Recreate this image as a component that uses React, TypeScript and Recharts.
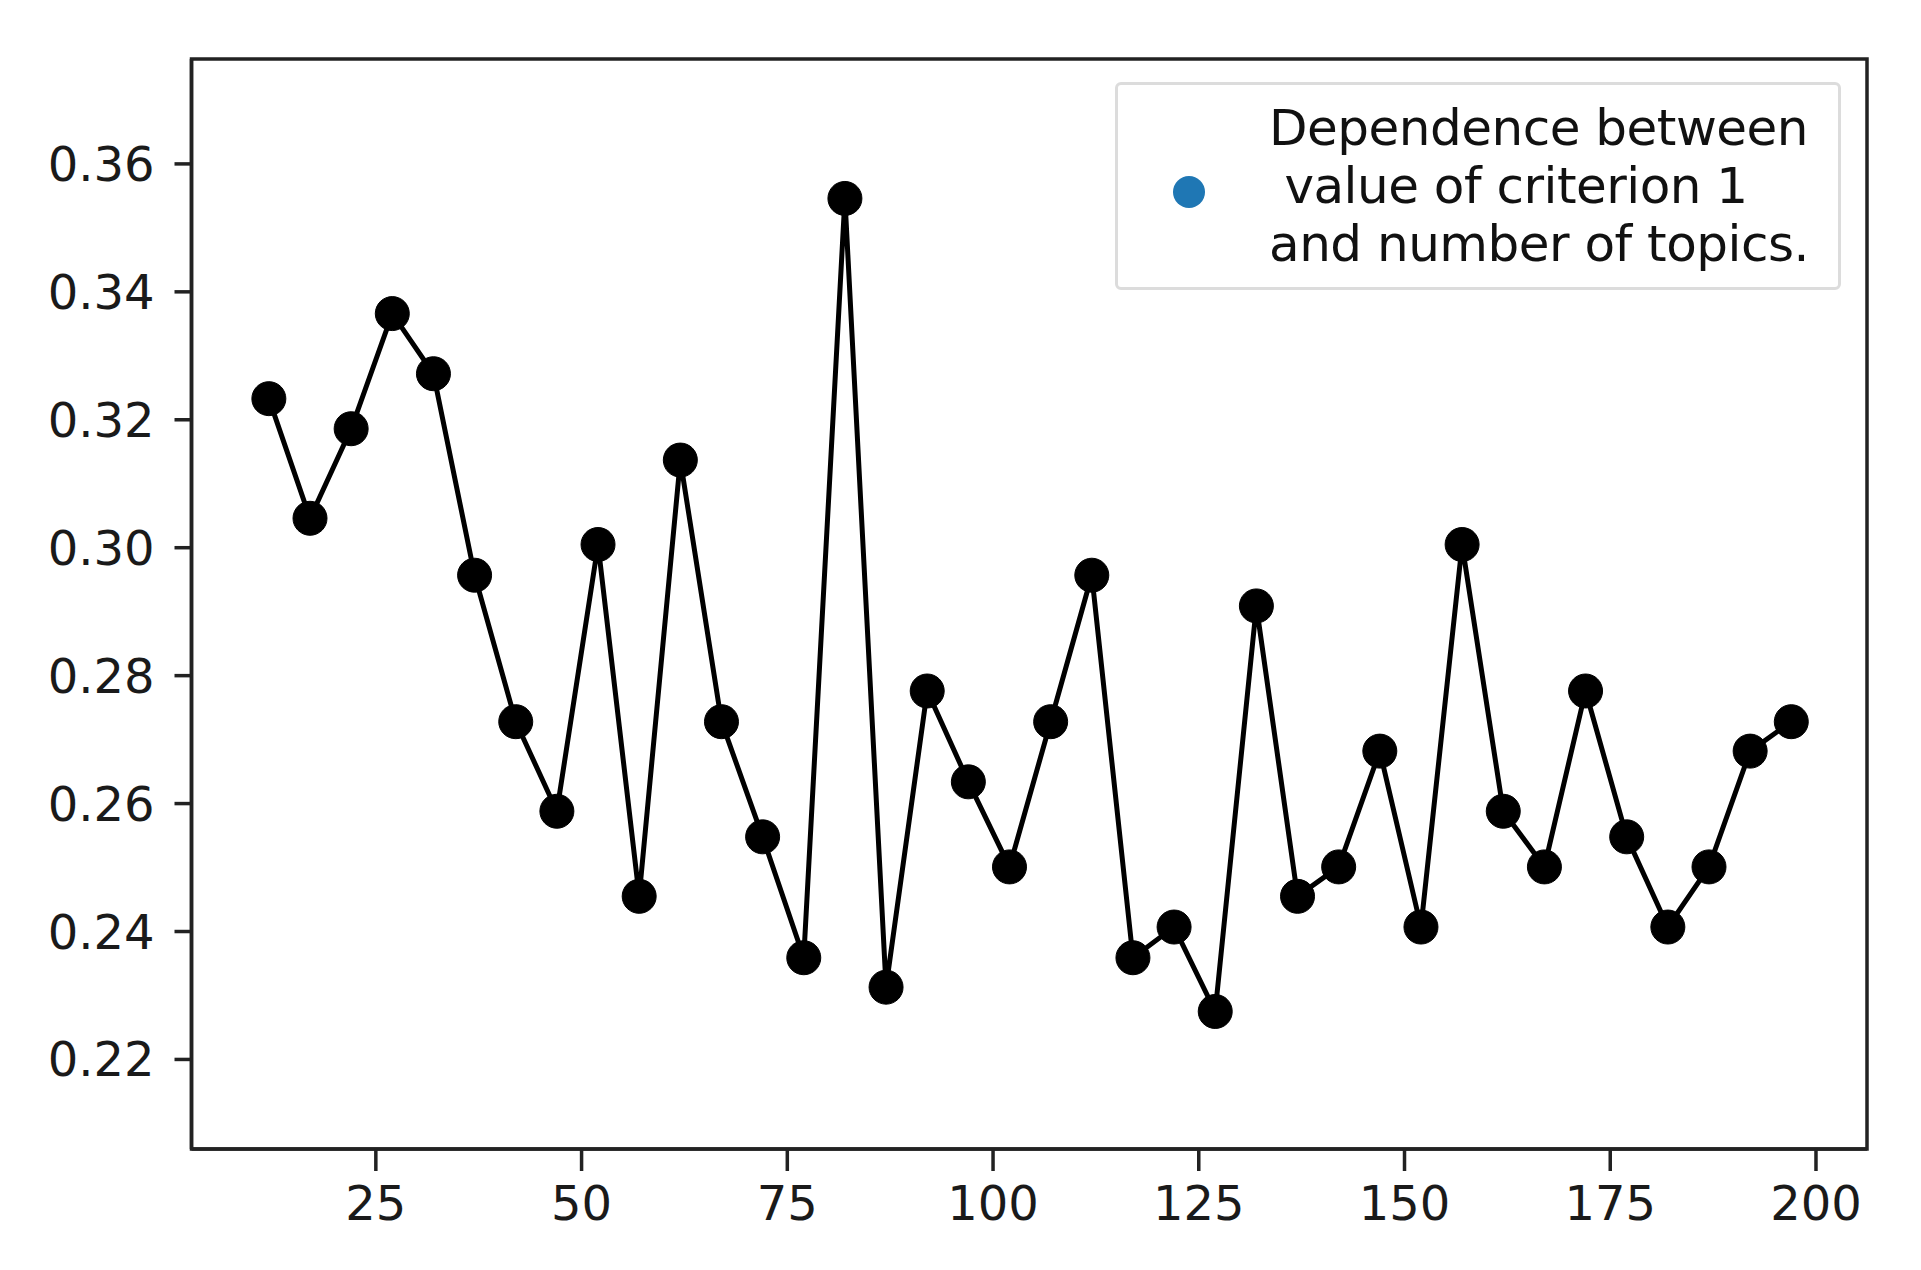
import React from 'react';
import { LineChart, Line, XAxis, YAxis, Legend, ReferenceArea } from 'recharts';

const topics = [12, 17, 22, 27, 32, 37, 42, 47, 52, 57, 62, 67, 72, 77, 82, 87, 92, 97, 102, 107, 112, 117, 122, 127, 132, 137, 142, 147, 152, 157, 162, 167, 172, 177, 182, 187, 192, 197];
const criterion = [0.3233, 0.3046, 0.3186, 0.3366, 0.3272, 0.2957, 0.2728, 0.2588, 0.3005, 0.2455, 0.3137, 0.2728, 0.2548, 0.2359, 0.3546, 0.2313, 0.2776, 0.2634, 0.2501, 0.2728, 0.2957, 0.2359, 0.2407, 0.2275, 0.2909, 0.2455, 0.2501, 0.2682, 0.2407, 0.3005, 0.2588, 0.2501, 0.2776, 0.2548, 0.2407, 0.2501, 0.2682, 0.2728];
const xTicks = [25, 50, 75, 100, 125, 150, 175, 200];
const yTicks = [0.22, 0.24, 0.26, 0.28, 0.3, 0.32, 0.34, 0.36];
const legendLines = ['Dependence between', ' value of criterion 1', 'and number of topics.'];

const xDomain: [number, number] = [2.6, 206.2];
const yDomain: [number, number] = [0.206, 0.3764];

const chartData = topics.map((t, i) => ({ topics: t, value: criterion[i] }));

const font = '"DejaVu Sans", sans-serif';
const axisColor = '#222';
const tickStyle = { fill: '#1a1a1a', fontSize: 48, fontFamily: font };

// legend box like matplotlib's: blue marker + multiline label
const LegendBox = () => (
  <div
    style={{
      border: '3px solid #dcdcdc',
      borderRadius: 6,
      background: 'white',
      width: 726,
      height: 208,
      boxSizing: 'border-box',
      display: 'flex',
      alignItems: 'center',
      fontFamily: font,
      fontSize: 50,
      color: '#111',
    }}
  >
    <div style={{ width: 32, height: 32, borderRadius: 16, background: '#1f77b4', marginLeft: 55, marginRight: 64, marginTop: 12 }} />
    <div style={{ lineHeight: '58px', whiteSpace: 'pre', letterSpacing: -0.5 }}>
      {legendLines.map((l) => (
        <div key={l}>{l}</div>
      ))}
    </div>
  </div>
);

export default function App() {
  return (
    <div style={{ width: 1905, height: 1254 }}>
      <LineChart width={1905} height={1254} data={chartData} margin={{ top: 51, right: 46, left: 0, bottom: 0 }}>
        <XAxis
          dataKey="topics"
          type="number"
          domain={xDomain}
          ticks={xTicks}
          allowDataOverflow
          height={113}
          tick={tickStyle}
          tickSize={22}
          tickMargin={15}
          axisLine={{ stroke: axisColor, strokeWidth: 3.5 }}
          tickLine={{ stroke: axisColor, strokeWidth: 3.5 }}
        />
        <YAxis
          type="number"
          domain={yDomain}
          ticks={yTicks}
          allowDataOverflow
          width={183.5}
          tick={tickStyle}
          tickFormatter={(v: number) => v.toFixed(2)}
          tickSize={17}
          tickMargin={20}
          axisLine={{ stroke: axisColor, strokeWidth: 3.5 }}
          tickLine={{ stroke: axisColor, strokeWidth: 3.5 }}
        />
        <ReferenceArea x1={xDomain[0]} x2={xDomain[1]} y1={yDomain[0]} y2={yDomain[1]} fill="none" stroke={axisColor} strokeWidth={3.5} />
        <Legend
          layout="horizontal"
          verticalAlign="middle"
          align="center"
          content={() => <LegendBox />}
          wrapperStyle={{ top: 74, left: 1107, width: 726 }}
        />
        <Line
          type="linear"
          dataKey="value"
          stroke="#000"
          strokeWidth={5}
          dot={{ r: 17, fill: '#000', stroke: '#000', strokeWidth: 1 }}
          activeDot={false}
          isAnimationActive={false}
        />
      </LineChart>
    </div>
  );
}
